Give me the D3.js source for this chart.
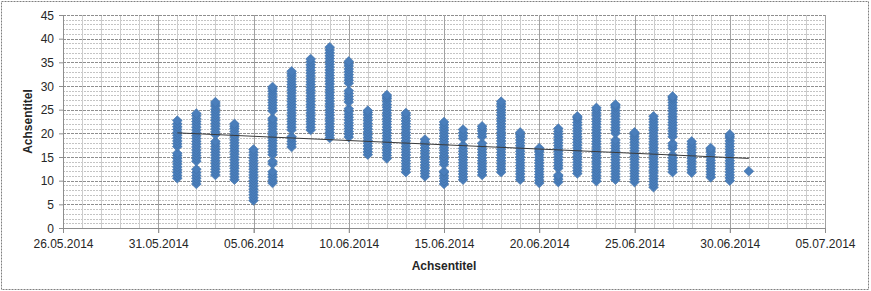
<!DOCTYPE html>
<html>
<head>
<meta charset="utf-8">
<script src="https://cdn.jsdelivr.net/npm/d3@7"></script>
<style>
  html, body { margin: 0; padding: 0; background: #fff; }
  svg { display: block; font-family: "Liberation Sans", Arial, sans-serif; }
</style>
</head>
<body>
<svg id="chart" width="871" height="291"></svg>
<script>
// --- Data ---
const xTickLabels = ["26.05.2014", "31.05.2014", "05.06.2014", "10.06.2014", "15.06.2014",
    "20.06.2014", "25.06.2014", "30.06.2014", "05.07.2014"];
const yTickLabels = [0, 5, 10, 15, 20, 25, 30, 35, 40, 45];
const axisTitleX = "Achsentitel";
const axisTitleY = "Achsentitel";

const days = ["2014-06-01", "2014-06-02", "2014-06-03", "2014-06-04", "2014-06-05", "2014-06-06",
    "2014-06-07", "2014-06-08", "2014-06-09", "2014-06-10", "2014-06-11", "2014-06-12",
    "2014-06-13", "2014-06-14", "2014-06-15", "2014-06-16", "2014-06-17", "2014-06-18",
    "2014-06-19", "2014-06-20", "2014-06-21", "2014-06-22", "2014-06-23", "2014-06-24",
    "2014-06-25", "2014-06-26", "2014-06-27", "2014-06-28", "2014-06-29", "2014-06-30",
    "2014-07-01"];

// readings per day (same order as days)
const readings = [
    [10.5,11.1,11.7,12.3,12.9,13.5,14.1,14.7,15.3,15.8,17.2,17.8,18.4,19,19.6,20.2,20.8,21.4,22,22.7],
    [9.3,9.9,10.5,11.1,11.7,12.4,14.1,14.7,15.3,15.9,16.5,17.1,17.7,18.3,18.9,19.5,20.1,20.7,21.3,21.9,22.5,23.1,23.7,24.2],
    [11.2,11.8,12.4,13,13.6,14.2,14.8,15.4,16,16.6,17.2,17.8,18.3,19.7,20.3,20.9,21.5,22.1,22.7,23.3,23.9,24.5,25.1,25.7,26.2,26.6],
    [10.2,10.8,11.4,12,12.6,13.2,13.8,14.4,15,15.6,16.2,16.8,17.4,18,18.6,19.2,19.8,20.4,21,21.5,22],
    [5.8,6.4,7,7.6,8.2,8.8,9.4,10,10.6,11.2,11.8,12.4,13,13.6,14.2,14.8,15.4,16,16.6],
    [9.5,10.1,10.7,11.3,11.9,13.5,14.1,15.5,16.1,16.7,17.3,17.9,18.5,19.1,19.7,20.3,20.9,21.5,22.1,22.7,23.2,24.7,25.3,25.9,26.5,27.1,27.7,28.3,28.9,29.4,29.8],
    [17.1,17.7,18.3,18.9,19.3,20.7,21.3,21.9,22.5,23.1,23.7,24.3,24.9,25.5,26.1,26.7,27.3,27.9,28.5,29.1,29.7,30.3,30.9,31.5,32.1,32.6,33.1],
    [20.7,21.3,21.9,22.5,23.1,23.7,24.3,24.9,25.5,26.1,26.7,27.3,27.9,28.5,29.1,29.7,30.3,30.9,31.5,32.1,32.7,33.3,33.9,34.5,35.1,35.7],
    [19,19.6,20.2,20.8,21.4,22,22.6,23.2,23.8,24.4,25,25.6,26.2,26.8,27.4,28,28.6,29.2,29.8,30.4,31,31.6,32.2,32.8,33.4,34,34.6,35.2,35.8,36.4,37,37.6,38.2],
    [19.2,19.8,20.4,21,21.6,22.2,22.8,23.4,24,24.6,25.2,26.6,27.2,27.8,28.4,29,30.6,31.2,31.8,32.4,33,33.6,34.2,34.7,35.2],
    [15.5,16.1,16.7,17.3,17.9,18.5,19.1,19.7,20.3,20.9,21.5,22.1,22.7,23.3,23.9,24.4,24.8],
    [14.7,15.3,15.9,16.5,17.1,17.7,18.3,18.9,19.5,20.1,20.7,21.3,21.9,22.5,23.1,23.7,24.3,24.9,25.5,26.1,26.7,27.3,27.7,28.1],
    [11.8,12.4,13,13.6,14.2,14.8,15.4,16,16.6,17.2,17.8,18.4,19,19.6,20.2,20.8,21.4,22,22.6,23.2,23.8,24.3],
    [10.9,11.5,12.1,12.7,13.3,13.9,14.5,15.1,15.7,16.3,16.9,17.5,18.1,18.7],
    [9.3,9.9,10.5,11.1,11.7,12,13.4,14,14.6,15.2,15.8,16.4,17,17.6,18.2,18.8,19.4,20,20.6,21.2,21.8,22.4],
    [10.2,10.8,11.4,12,12.6,13.2,13.8,14.4,15,15.6,16.2,16.8,17.5,18.9,19.5,20.1,20.8],
    [11.2,11.8,12.4,13,13.6,14.2,14.8,15.4,16,16.6,17.2,17.9,19.3,19.9,20.5,21,21.5],
    [11.8,12.4,13,13.6,14.2,14.8,15.4,16,16.6,17.2,17.8,18.4,19,19.6,20.2,20.8,21.4,22,22.6,23.2,23.8,24.4,25,25.6,26.2,26.7],
    [10.2,10.8,11.4,12,12.6,13.2,13.8,14.4,15,15.6,16.2,16.8,17.4,18,18.6,19.2,19.7,20.2],
    [9.5,10.1,10.7,11.3,11.9,12.5,13.1,13.7,14.3,14.9,15.5,16.1,16.5,16.9],
    [9.7,10.3,10.9,11.2,12.6,13.2,13.8,14.4,15,15.6,16.2,16.8,17.4,18,18.6,19.2,19.8,20.4,21],
    [11.5,12.1,12.7,13.3,13.9,14.5,15.1,15.7,16.3,16.9,17.5,18.1,18.7,19.3,19.9,20.5,21.1,21.7,22.3,22.9,23.3,23.6],
    [9.9,10.5,11.1,11.7,12.3,12.9,13.5,14.1,14.7,15.3,15.9,16.5,17.1,17.7,18.3,18.9,19.5,20.1,20.7,21.3,21.9,22.5,23.1,23.7,24.3,24.9,25.4],
    [10.2,10.8,11.4,12,12.6,13.2,13.8,14.4,15,15.6,16.2,16.8,17.4,18,18.6,20,20.6,21.2,21.8,22.4,23,23.6,24.2,24.8,25.4,25.8,26.1],
    [9.7,10.3,10.9,11.5,12.1,12.7,13.3,13.9,14.5,15.1,15.7,16.3,16.9,17.5,18.1,18.7,19.3,19.8,20.2],
    [8.6,9.2,9.8,10.4,11,11.6,12.2,12.8,13.4,14,14.6,15.2,15.8,16.4,17,17.6,18.2,18.8,19.4,20,20.6,21.2,21.8,22.4,23,23.6],
    [11.8,12.4,13,13.6,14.2,14.8,15.4,16.8,17.4,17.9,19.3,19.9,20.5,21.1,21.7,22.3,22.9,23.5,24.1,24.7,25.3,25.9,26.5,27.1,27.5,27.8],
    [11.7,12.3,12.9,13.5,14.1,14.7,15.3,15.9,16.5,17.1,17.7,18.3],
    [10.7,11.3,11.9,12.5,13.1,13.7,14.3,14.9,15.5,16.1,16.5,16.9],
    [10,10.6,11.2,11.8,12.4,13,13.6,14.2,14.8,15.4,16,16.6,17.2,17.8,18.4,19,19.4,19.8],
    [12]
];

// linear trend line (Excel style), start and end
const trendDates = ["2014-06-01", "2014-07-01"];
const trendValues = [20.1, 14.7];

// --- Setup ---
const margin = { top: 15, right: 46, bottom: 63, left: 63 };
const W = 871, H = 291;
const plotW = W - margin.left - margin.right;   // 762
const plotH = H - margin.top - margin.bottom;   // 213

const parse = d3.utcParse("%Y-%m-%d");
const parseLabel = d3.utcParse("%d.%m.%Y");
const fmt = d3.utcFormat("%d.%m.%Y");

const xStart = parseLabel(xTickLabels[0]);
const xEnd = parseLabel(xTickLabels[xTickLabels.length - 1]);

const x = d3.scaleUtc().domain([xStart, xEnd]).range([0, plotW]);
const y = d3.scaleLinear().domain([0, 45]).range([plotH, 0]);

const svg = d3.select("#chart");

// outer chart border
svg.append("rect")
    .attr("x", 1.5).attr("y", 1.5)
    .attr("width", W - 4).attr("height", H - 3)
    .attr("fill", "#fff")
    .attr("stroke", "#7f7f7f")
    .attr("stroke-dasharray", "2,1");

const g = svg.append("g").attr("transform", `translate(${margin.left},${margin.top})`);

// --- Gridlines ---
const minorDays = d3.utcDay.range(xStart, d3.utcDay.offset(xEnd, 1));
const majorDays = xTickLabels.map(parseLabel);
const minorY = d3.range(0, 46, 1);

g.append("g").selectAll("line")
    .data(minorY.filter(v => v % 5 !== 0))
    .join("line")
    .attr("x1", 0).attr("x2", plotW)
    .attr("y1", d => Math.round(y(d)) + 0.5).attr("y2", d => Math.round(y(d)) + 0.5)
    .attr("stroke", "#c4c4c4")
    .attr("stroke-dasharray", "2,1");

g.append("g").selectAll("line")
    .data(minorDays.filter(d => !majorDays.some(m => +m === +d)))
    .join("line")
    .attr("x1", d => Math.round(x(d)) + 0.5).attr("x2", d => Math.round(x(d)) + 0.5)
    .attr("y1", 0).attr("y2", plotH)
    .attr("stroke", "#cdcdcd");

g.append("g").selectAll("line")
    .data(yTickLabels.filter(v => v > 0))
    .join("line")
    .attr("x1", 0).attr("x2", plotW)
    .attr("y1", d => Math.round(y(d)) + 0.5).attr("y2", d => Math.round(y(d)) + 0.5)
    .attr("stroke", "#8e8e8e")
    .attr("stroke-dasharray", "3,1");

g.append("g").selectAll("line")
    .data(majorDays.slice(1))
    .join("line")
    .attr("x1", d => Math.round(x(d)) + 0.5).attr("x2", d => Math.round(x(d)) + 0.5)
    .attr("y1", 0).attr("y2", plotH + 5)
    .attr("stroke", "#a2a2a2");

// --- Axes ---
const xAxis = d3.axisBottom(x)
    .tickValues(majorDays)
    .tickFormat(fmt)
    .tickSize(5)
    .tickPadding(6);

const yAxis = d3.axisLeft(y)
    .tickValues(yTickLabels)
    .tickSize(4)
    .tickPadding(5);

const xAxisGroup = g.append("g")
    .attr("transform", `translate(0,${plotH})`)
    .call(xAxis);
const yAxisGroup = g.append("g").call(yAxis);

[xAxisGroup, yAxisGroup].forEach(ag => {
    ag.select(".domain").attr("stroke", "#8e8e8e");
    ag.selectAll(".tick line").attr("stroke", "#8e8e8e");
    ag.selectAll("text")
        .attr("fill", "#262626")
        .style("font-size", "12px")
        .style("font-family", "'Liberation Sans', Arial, sans-serif");
});
yAxisGroup.selectAll(".tick text").attr("dy", "0.36em");

// --- Points ---
const points = days.flatMap((d, i) => readings[i].map(v => ({ date: parse(d), value: v })));

const diamond = "M0,-4.8L4.9,0L0,4.8L-4.9,0Z";
g.append("g").selectAll("path")
    .data(points)
    .join("path")
    .attr("d", diamond)
    .attr("transform", d => `translate(${x(d.date)},${y(d.value)})`)
    .attr("fill", "#4a7ebb")
    .attr("stroke", "#3e6ea6")
    .attr("stroke-width", 0.6);

// --- Trend line ---
const trend = trendDates.map((d, i) => ({ date: parse(d), value: trendValues[i] }));
g.append("path")
    .datum(trend)
    .attr("fill", "none")
    .attr("stroke", "#3a3a3a")
    .attr("stroke-width", 1)
    .attr("d", d3.line().x(d => x(d.date)).y(d => y(d.value)));

// --- Axis titles ---
svg.append("text")
    .attr("x", margin.left + plotW / 2)
    .attr("y", 270)
    .attr("text-anchor", "middle")
    .style("font-size", "12px")
    .style("font-weight", "bold")
    .attr("fill", "#262626")
    .text(axisTitleX);

svg.append("text")
    .attr("transform", `translate(32,${margin.top + plotH / 2}) rotate(-90)`)
    .attr("text-anchor", "middle")
    .style("font-size", "12px")
    .style("font-weight", "bold")
    .attr("fill", "#262626")
    .text(axisTitleY);
</script>
</body>
</html>
